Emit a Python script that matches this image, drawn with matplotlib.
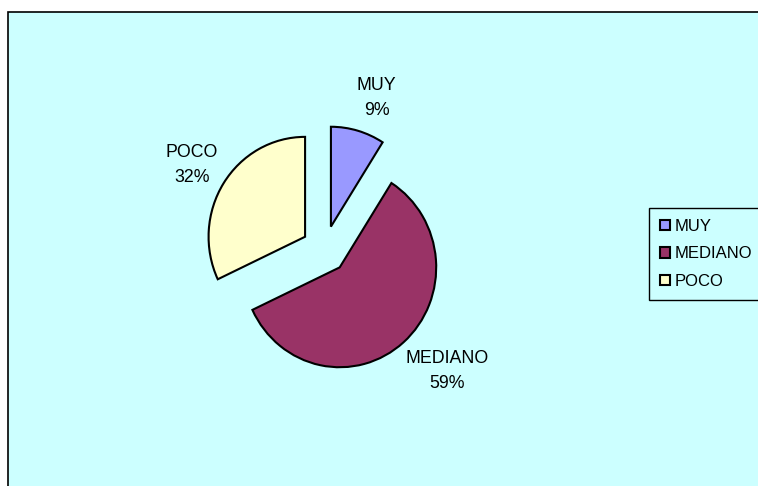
import numpy as np
import matplotlib
matplotlib.use("Agg")
import matplotlib.pyplot as plt
from matplotlib.patches import Rectangle

categories = ["MUY", "MEDIANO", "POCO"]
values = [9, 59, 32]
colors = ["#9999FF", "#993366", "#FFFFCC"]

plt.rcParams['font.family'] = ['Liberation Sans', 'DejaVu Sans']

W, H = 758, 486
SY = 1.035  # slight vertical stretch of the pie (as in the reference)
fig = plt.figure(figsize=(W / 100, H / 100), dpi=100)
fig.patch.set_facecolor("white")

ax = fig.add_axes([0, 0, 1, 1])
ax.patch.set_alpha(0)

cx, cy = 324.5, (H - 249.5) / SY
R = 96.5
expl = 23
wedges, _ = ax.pie(values, colors=colors, startangle=90, counterclock=False,
                   explode=[expl] * len(values), center=(cx, cy), radius=R,
                   wedgeprops=dict(edgecolor="black", linewidth=1.5),
                   frame=True)
ax.set_xlim(0, W)
ax.set_ylim(0, H / SY)
ax.set_aspect("auto")
ax.axis("off")

# chart area background with border (left/top visible)
bg = Rectangle((8, -20), W + 40, (H - 12) / SY + 20, facecolor="#CCFFFF",
               edgecolor="black", linewidth=1.2, zorder=-10, clip_on=False)
ax.add_patch(bg)

# label placement: angle (deg, clockwise from top) and distance (radius units)
label_angle = [19.0, 134.6, 302.4]
label_dist = [1.66, 1.79, 1.63]
for cat, v, ang, ld in zip(categories, values, label_angle, label_dist):
    a = np.deg2rad(ang)
    tx = cx + ld * R * np.sin(a)
    ty = cy + ld * R * np.cos(a) / SY
    ax.text(tx, ty, f"{cat}\n{round(v)}%", ha="center", va="center",
            fontsize=12.8, linespacing=1.6, color="black")

leg = ax.legend(wedges, categories, loc="upper left",
                bbox_to_anchor=(649 / W, 1 - 208 / H), bbox_transform=fig.transFigure,
                borderaxespad=0, fancybox=False, framealpha=1,
                facecolor="#CCFFFF", edgecolor="black", fontsize=12,
                handlelength=0.6, handleheight=0.6, handletextpad=0.3,
                labelspacing=0.75, borderpad=0.65)
leg.get_frame().set_linewidth(1.0)

fig.savefig("out.png", dpi=100)
